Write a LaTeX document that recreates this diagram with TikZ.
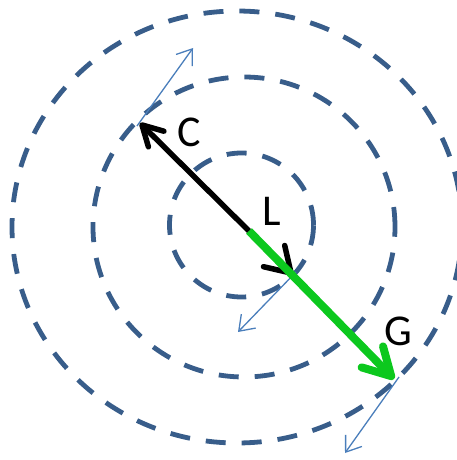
\documentclass[tikz,border=0pt]{standalone}
\usepackage{fontspec}
\setmainfont{Carlito}
\usetikzlibrary{arrows.meta}
\definecolor{ringblue}{HTML}{385D8A}
\definecolor{velblue}{HTML}{4A7EBB}
\definecolor{gogreen}{HTML}{0CC81E}

\begin{document}
\begin{tikzpicture}[x=1pt,y=-1pt,
      ring/.style={draw=ringblue,line width=4.8pt,dash pattern=on 20pt off 16pt},
      vel/.style={velblue,line width=1.3pt,-{Straight Barb[length=14pt,width=20pt]}},
      lbl/.style={inner sep=0pt,font=\fontsize{44}{50}\selectfont}]
    \useasboundingbox (0,0) rectangle (457,460);
    % orbits
    \draw[ring] (237,227) ellipse [x radius=225pt,y radius=216pt];
    \draw[ring] (244,227) ellipse [x radius=151pt,y radius=150pt];
    \draw[ring] (241.5,225) circle [radius=72pt];

    \coordinate (o) at (249,231);
    \coordinate (c) at (140,123);
    \coordinate (l) at (293,275);
    \coordinate (g) at (394,379);

    % tangent arrows
    \coordinate (v1s) at (137,126); \coordinate (v1) at (193,48);
    \coordinate (v2s) at (296,272); \coordinate (v2) at (238,332);
    \coordinate (v3s) at (399,377); \coordinate (v3) at (345,453);
    \draw[vel] (v1s) -- (v1);
    \draw[vel] (v2s) -- (v2);
    \draw[vel] (v3s) -- (v3);

    % radius vectors
    \draw[line width=5.5pt,-{Straight Barb[length=20pt,width=22pt,round]}] (o) -- (c);
    \draw[line width=5.5pt,-{Straight Barb[length=24pt,width=30pt,round]}] (o) -- (l);
    \draw[gogreen,line width=8pt,-{Straight Barb[length=27pt,width=30pt,round]}] (o) -- (g);

    \node[lbl] (lc) at (189,132) {C};
    \node[lbl] (ll) at (272,211) {L};
    \node[lbl] (lg) at (398,331) {G};
\end{tikzpicture}
\end{document}
